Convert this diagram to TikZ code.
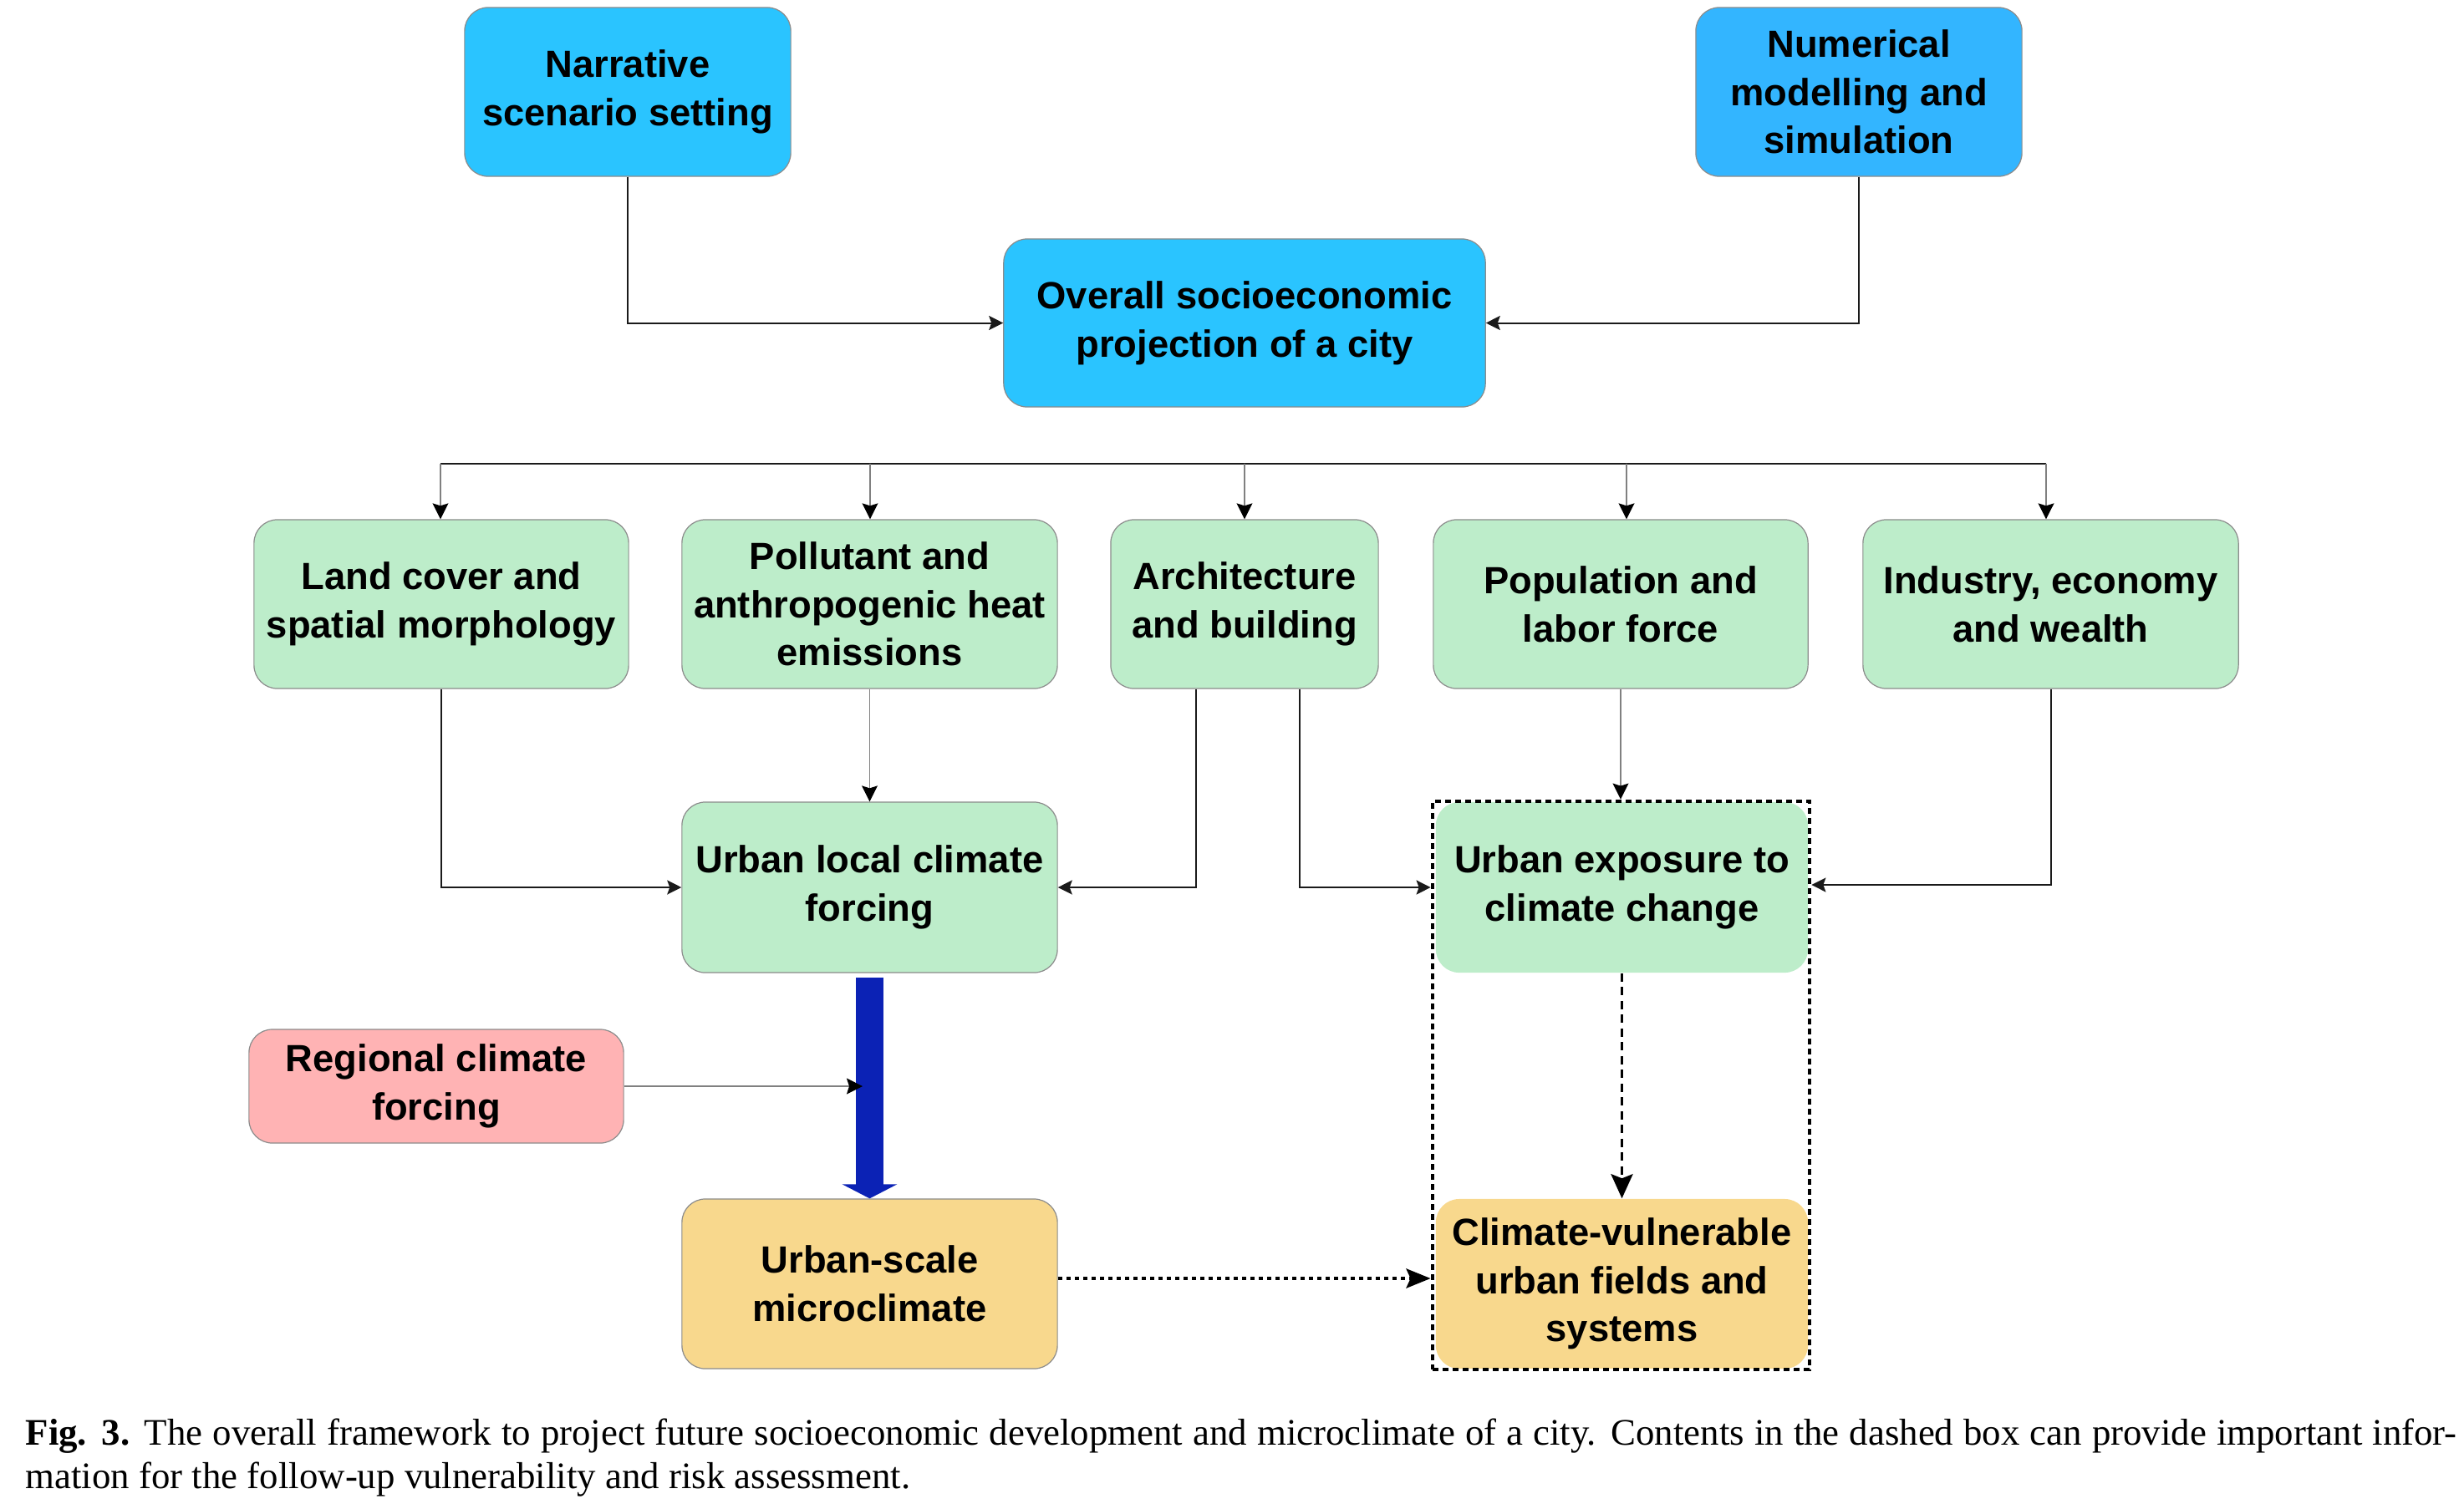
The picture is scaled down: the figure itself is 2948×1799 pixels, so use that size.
\documentclass[tikz,border=0pt]{standalone}
\usepackage{fontspec}
\setmainfont{Liberation Serif}
\newfontfamily\boxfont{Liberation Sans}
\usetikzlibrary{arrows.meta}
\definecolor{cyanA}{HTML}{2AC4FF}
\definecolor{cyanB}{HTML}{33B5FF}
\definecolor{greenbox}{HTML}{BDEDCA}
\definecolor{pinkbox}{HTML}{FFB3B4}
\definecolor{orangebox}{HTML}{F8D88D}
\definecolor{bordergray}{HTML}{8C8C8C}
\definecolor{linegray}{HTML}{808080}
\definecolor{bigblue}{HTML}{0B22B5}
\definecolor{lineblack}{HTML}{1A1A1A}
\begin{document}
\begin{tikzpicture}[x=0.01cm,y=-0.01cm,
  box/.style={rounded corners=0.28cm, draw=bordergray, line width=0.012cm,
    align=center, inner sep=0pt,
    font=\boxfont\bfseries\fontsize{12.9}{16.4}\selectfont},
  nobox/.style={rounded corners=0.28cm, align=center, inner sep=0pt,
    font=\boxfont\bfseries\fontsize{12.9}{16.4}\selectfont},
  blk/.style={draw=lineblack, line width=0.02cm,
    -{Stealth[length=0.17cm,width=0.17cm,inset=0.03cm]}},
  gry/.style={draw=linegray, line width=0.011cm,
    -{Stealth[length=0.19cm,width=0.19cm,inset=0.03cm,color=black]}},
  busline/.style={draw=lineblack, line width=0.022cm},
  dashbox/.style={draw=black, line width=0.045cm, dash pattern=on 0.07cm off 0.05cm, inner sep=0pt},
  dotarrow/.style={draw=black, line width=0.045cm, dash pattern=on 0.055cm off 0.045cm,
    -{Stealth[length=0.29cm,width=0.23cm,inset=0.05cm]}},
  dasharrow/.style={draw=black, line width=0.035cm, dash pattern=on 0.1cm off 0.065cm,
    -{Stealth[length=0.29cm,width=0.26cm,inset=0.05cm]}},
  bluearrow/.style={draw=bigblue, line width=0.33cm,
    -{Triangle[length=0.17cm,width=0.65cm]}},
  captext/.style={inner sep=0pt, anchor=base west, font=\fontsize{12.75}{14.8}\selectfont}
]
\useasboundingbox (0,0) rectangle (2948,1799);

% top row
\node[box, fill=cyanA, minimum width=3.90cm, minimum height=2.02cm] (narr) at (751,110)
  {Narrative\\scenario setting};
\node[box, fill=cyanB, minimum width=3.90cm, minimum height=2.02cm] (num) at (2224,110)
  {Numerical\\modelling and\\simulation};
\node[box, fill=cyanA, minimum width=5.76cm, minimum height=2.01cm] (over) at (1489,386.5)
  {Overall socioeconomic\\projection of a city};

% second row
\node[box, fill=greenbox, minimum width=4.48cm, minimum height=2.02cm] (land) at (528,723)
  {Land cover and\\spatial morphology};
\node[box, fill=greenbox, minimum width=4.49cm, minimum height=2.02cm] (poll) at (1040.5,723)
  {Pollutant and\\anthropogenic heat\\emissions};
\node[box, fill=greenbox, minimum width=3.20cm, minimum height=2.02cm] (arch) at (1489,723)
  {Architecture\\and building};
\node[box, fill=greenbox, minimum width=4.48cm, minimum height=2.02cm] (pop) at (1939,723)
  {Population and\\labor force};
\node[box, fill=greenbox, minimum width=4.49cm, minimum height=2.02cm] (ind) at (2453.5,723)
  {Industry, economy\\and wealth};

% third row
\node[box, fill=greenbox, minimum width=4.49cm, minimum height=2.04cm] (ulcf) at (1040.5,1062)
  {Urban local climate\\forcing};
\node[nobox, fill=greenbox, minimum width=4.45cm, minimum height=2.04cm] (uexp) at (1940.5,1062)
  {Urban exposure to\\climate change};
\node[box, fill=pinkbox, minimum width=4.48cm, minimum height=1.36cm] (reg) at (522,1300)
  {Regional climate\\forcing};

% bottom row
\node[box, fill=orangebox, minimum width=4.49cm, minimum height=2.03cm] (usm) at (1040.5,1536.5)
  {Urban-scale\\microclimate};
\node[nobox, fill=orangebox, minimum width=4.45cm, minimum height=2.03cm] (cvul) at (1940.5,1536.5)
  {Climate-vulnerable\\urban fields and\\systems};

% dashed enclosing box
\node[dashbox, minimum width=4.51cm, minimum height=6.80cm] (dbox) at (1939.5,1299) {};

% connectors top
\draw[blk] (narr.south) |- (over.west);
\draw[blk] (num.south) |- (over.east);

% bus
\coordinate (d1) at (527,555);
\coordinate (d2) at (1041,555);
\coordinate (d3) at (1489,555);
\coordinate (d4) at (1946,555);
\coordinate (d5) at (2448,555);
\draw[busline] (d1) -- (d5);
\draw[gry] (d1) -- (d1 |- land.north);
\draw[gry] (d2) -- (d2 |- poll.north);
\draw[gry] (d3) -- (d3 |- arch.north);
\draw[gry] (d4) -- (d4 |- pop.north);
\draw[gry] (d5) -- (d5 |- ind.north);

% to third row
\draw[blk] (land.south) |- (ulcf.west);
\draw[gry] (poll.south) -- (ulcf.north);
\draw[blk] ([xshift=-0.58cm]arch.south) |- (ulcf.east);
\draw[blk] ([xshift=0.66cm]arch.south) |- (uexp.west -| dbox.west);
\draw[gry] (pop.south) -- (pop.south |- dbox.north);
\draw[blk] (ind.south) |- ([yshift=0.03cm]uexp.east -| dbox.east);

% big blue arrow
\draw[bluearrow] ([yshift=-0.05cm]ulcf.south) -- (usm.north);
\draw[gry] (reg.east) -- ([xshift=-0.085cm]reg.east -| ulcf.south);

% bottom connectors
\draw[dotarrow] ([yshift=0.065cm]usm.east) -- ([yshift=0.065cm]usm.east -| dbox.west);
\draw[dasharrow] (uexp.south) -- (cvul.north);

% caption
\node[captext] (cap1) at (30,1729)
  {\hbox to 29.07cm{\textbf{Fig. 3.} The overall framework to project future socioeconomic development and microclimate of a city. Contents in the dashed box can provide important infor-}};
\node[captext] (cap2) at (30,1781)
  {mation for the follow-up vulnerability and risk assessment.};
\end{tikzpicture}
\end{document}
